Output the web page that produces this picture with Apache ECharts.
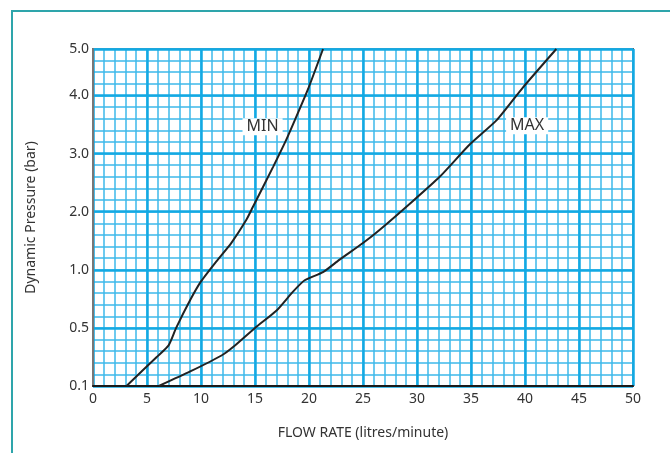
<!DOCTYPE html>
<html>
<head>
<meta charset="utf-8">
<script src="https://cdn.jsdelivr.net/npm/echarts@6/dist/echarts.min.js"></script>
<style>html,body{margin:0;padding:0;background:#fff}#c{width:670px;height:453px}</style>
</head>
<body>
<div id="c"></div>
<script>
// Y axis tick labels (bar) and their positions on the chart's grid scale
var yTickLabels = ['0.1', '0.5', '1.0', '2.0', '3.0', '4.0', '5.0'];
var yTickPressure = [0.1, 0.5, 1.0, 2.0, 3.0, 4.0, 5.0];
var yTickPos = [0, 5, 10, 15, 20, 25, 29];
var xTicks = [0, 5, 10, 15, 20, 25, 30, 35, 40, 45, 50];

// MIN curve: flow (l/min) vs pressure (bar)
var minFlow = [3.1, 5.9, 7.0, 7.7, 9.0, 10.0, 11.4, 12.8, 14.2, 14.8, 16.7, 17.9, 18.7, 19.9, 21.3];
var minPressure = [0.1, 0.30, 0.38, 0.50, 0.74, 0.90, 1.14, 1.46, 1.86, 2.08, 2.78, 3.24, 3.58, 4.13, 5.0];

// MAX curve
var maxFlow = [6.1, 9.0, 11.9, 13.0, 15.0, 17.0, 18.5, 19.6, 21.3, 22.8, 25.0, 26.5, 29.6, 32.1, 34.9, 37.4, 39.8, 42.9];
var maxPressure = [0.1, 0.20, 0.31, 0.37, 0.50, 0.65, 0.81, 0.91, 0.98, 1.17, 1.46, 1.68, 2.18, 2.60, 3.16, 3.58, 4.17, 5.0];

// piecewise-linear mapping of pressure onto the chart's non-uniform vertical scale
function pToPos(p) {
  for (var i = 0; i < yTickPressure.length - 1; i++) {
    if (p <= yTickPressure[i + 1] || i === yTickPressure.length - 2) {
      var t = (p - yTickPressure[i]) / (yTickPressure[i + 1] - yTickPressure[i]);
      return yTickPos[i] + t * (yTickPos[i + 1] - yTickPos[i]);
    }
  }
}
function build(xs, ps) { return xs.map(function (x, i) { return [x, pToPos(ps[i])]; }); }

var chart = echarts.init(document.getElementById('c'));
var FONT = 'Noto Sans';
var gridLine = '#3cb9ea';
var majorLine = '#12a9e3';

chart.setOption({
  animation: false,
  backgroundColor: '#fff',
  graphic: [{
    type: 'rect', left: 11, top: 10, z: -10,
    shape: { width: 700, height: 500 },
    style: { fill: '#fff', stroke: '#2ea5ab', lineWidth: 2 }
  }],
  grid: { left: 93, right: 37, top: 49, bottom: 67, show: true, borderColor: '#666', borderWidth: 2, backgroundColor: 'transparent' },
  xAxis: [{
    type: 'value', min: 0, max: 50, interval: 5,
    name: 'FLOW RATE (litres/minute)', nameLocation: 'middle', nameGap: 40,
    nameTextStyle: { fontFamily: FONT, fontSize: 14, color: '#333' },
    axisLine: { show: true, lineStyle: { color: '#1a1a1a', width: 2 } },
    axisTick: { show: false },
    axisLabel: { fontFamily: FONT, fontSize: 14, color: '#333', margin: 6 },
    splitLine: { show: true, lineStyle: { color: majorLine, width: 2.5 } },
    z: 3
  }, {
    type: 'value', min: 0, max: 50, interval: 1, position: 'bottom',
    axisLine: { show: false }, axisTick: { show: false }, axisLabel: { show: false },
    splitLine: { show: true, lineStyle: { color: gridLine, width: 1.5 } },
    z: 1
  }],
  yAxis: [{
    type: 'value', min: 0, max: 29, interval: 5,
    name: 'Dynamic Pressure (bar)', nameLocation: 'middle', nameGap: 55,
    nameTextStyle: { fontFamily: FONT, fontSize: 14, color: '#333' },
    axisLine: { show: true, lineStyle: { color: '#777', width: 2 } },
    axisTick: { show: false },
    axisLabel: {
      fontFamily: FONT, fontSize: 14, color: '#333', margin: 4, showMaxLabel: true,
      formatter: function (v) {
        var i = yTickPos.indexOf(Math.round(v));
        return i >= 0 ? yTickLabels[i] : '';
      }
    },
    splitLine: { show: true, lineStyle: { color: majorLine, width: 2.5 } },
    z: 3
  }, {
    type: 'value', min: 0, max: 29, interval: 1, position: 'left',
    axisLine: { show: false }, axisTick: { show: false }, axisLabel: { show: false },
    splitLine: { show: true, lineStyle: { color: gridLine, width: 1.5 } },
    z: 1
  }],
  series: [{
    name: 'MIN', type: 'line', data: build(minFlow, minPressure),
    showSymbol: false, symbol: 'none', smooth: 0.2,
    lineStyle: { color: '#222', width: 2 }, z: 5,
    markPoint: {
      symbol: 'rect', symbolSize: 0,
      data: [{ coord: [15.7, pToPos(3.46)], value: 'MIN' }],
      label: { show: true, formatter: 'MIN', fontFamily: FONT, fontSize: 16, color: '#333', backgroundColor: '#fff', padding: [1, 4, 0, 4] }
    }
  }, {
    name: 'MAX', type: 'line', data: build(maxFlow, maxPressure),
    showSymbol: false, symbol: 'none', smooth: 0.2,
    lineStyle: { color: '#222', width: 2 }, z: 5,
    markPoint: {
      symbol: 'rect', symbolSize: 0,
      data: [{ coord: [40.2, pToPos(3.48)], value: 'MAX' }],
      label: { show: true, formatter: 'MAX', fontFamily: FONT, fontSize: 16, color: '#333', backgroundColor: '#fff', padding: [1, 4, 0, 4] }
    }
  }]
});
</script>
</body>
</html>
